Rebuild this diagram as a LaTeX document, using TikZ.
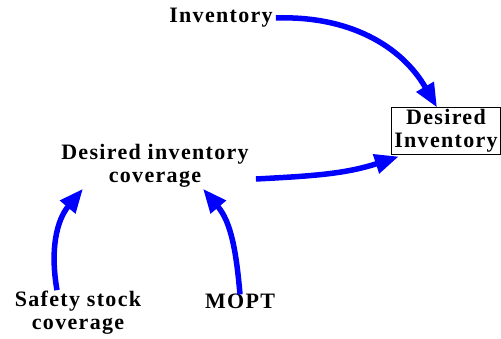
\documentclass[tikz,border=0pt]{standalone}
\usepackage{fontspec}
\setmainfont{Liberation Serif}[LetterSpace=6]
\usetikzlibrary{positioning}
\usetikzlibrary{arrows.meta}
\definecolor{linkblue}{rgb}{0.0, 0.0, 1.0}

\begin{document}
\begin{tikzpicture}[x=1pt,y=-1pt,
  var/.style={align=center, font=\fontsize{22}{23}\selectfont\bfseries, inner sep=1pt},
  link/.style={-{Triangle[length=24pt,width=19pt]}, color=linkblue, line width=5.5pt}]
\useasboundingbox (0,0) rectangle (501,339);

\node(inv)[var] at (221,18) {Inventory};
\node(dinv)[var, draw, line width=1pt, inner xsep=3pt, inner ysep=1.5pt] at (446,131) {Desired\\Inventory};
\node(dic)[var] at (155,166) {Desired inventory\\coverage};
\node(ssc)[var] at (78,313) {Safety stock\\coverage};
\node(mopt)[var] at (240,301) {MOPT};

\draw[link] ([xshift=2pt]inv.east) to[out=2, in=120] ([xshift=-9pt]dinv.north);
\draw[link] ([xshift=6pt, yshift=-13pt]dic.east) to[out=3, in=198] ([xshift=8pt, yshift=-2pt]dinv.south west);
\draw[link] ([xshift=-21pt]ssc.north) to[out=100, in=230] ([xshift=-72pt]dic.south);
\draw[link] ([yshift=-2pt]mopt.north) to[out=95, in=-50] ([xshift=48pt]dic.south);
\end{tikzpicture}
\end{document}
